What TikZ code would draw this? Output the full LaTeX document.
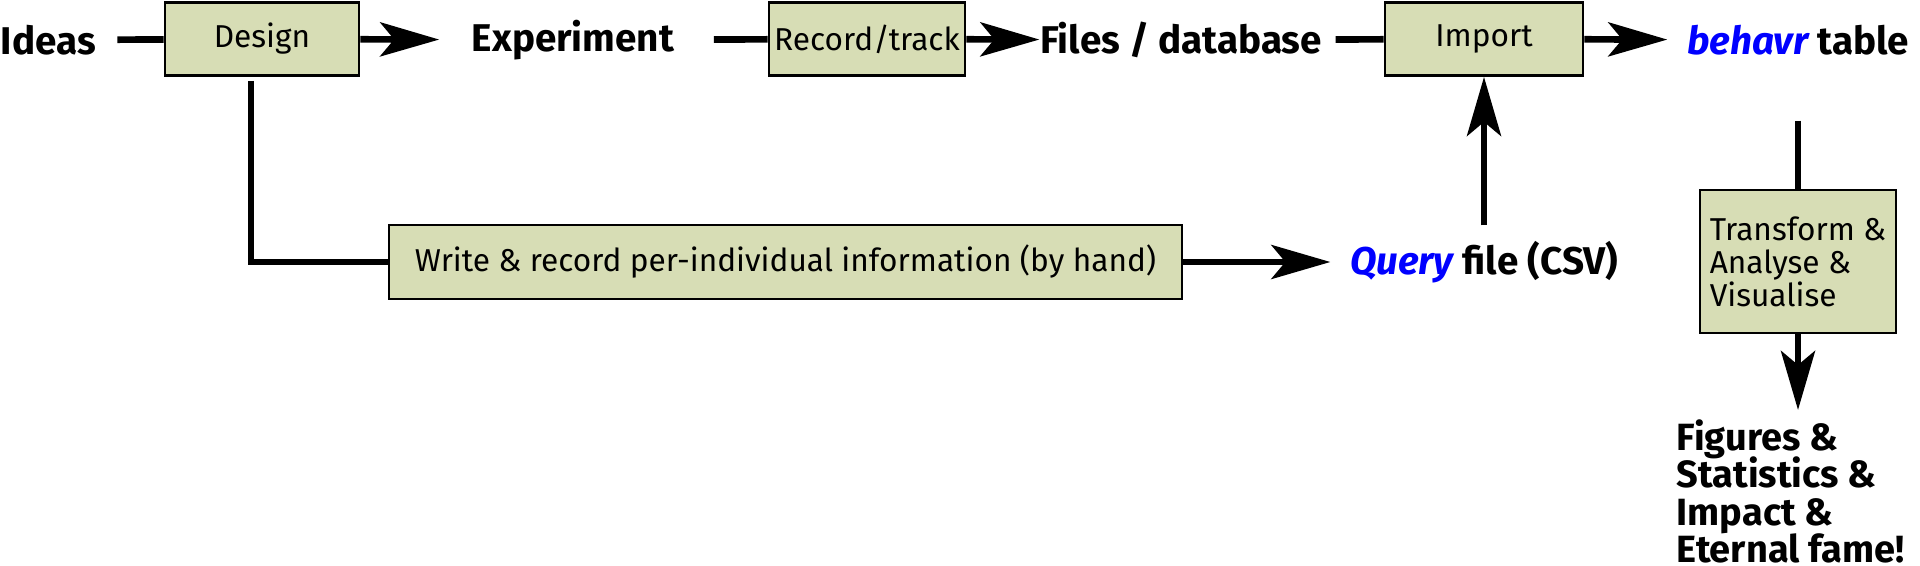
\documentclass[tikz,border=0pt]{standalone}
\usepackage{fontspec}
\setmainfont{Fira Sans}
\usepackage{xcolor}
\usepackage{tikz}
\usetikzlibrary{arrows.meta, positioning}

\definecolor{boxgreen}{RGB}{215,221,181}
\definecolor{pkgblue}{RGB}{0,0,255}
\newcommand{\tightlines}{\setlength{\lineskiplimit}{-10pt}}

\begin{document}
\begin{tikzpicture}[
    stagebox/.style={draw, rectangle, line width=0.8pt, fill=boxgreen, minimum height=0.73cm, inner sep=1pt, font=\fontsize{9}{9.4}\selectfont},
    stage/.style={inner sep=0pt, font=\fontsize{11}{11}\selectfont\bfseries},
    link/.style={line width=1.9pt},
    arrow/.style={link, -{Stealth[length=5.9mm, width=3.4mm, inset=1.4mm]}}
]
\useasboundingbox (0,0) rectangle (19.2,-5.66);

% top row
\node[stage, anchor=west] (ideas) at (0,-0.40) {Ideas};
\node[stagebox, minimum width=1.94cm] (design) at (2.62,-0.39) {Design};
\node[stage] (experiment) at (5.73,-0.40) {Experiment};
\node[stagebox, minimum width=1.96cm] (record) at (8.67,-0.39) {Record/track};
\node[stage] (files) at (11.81,-0.40) {Files / database};
\node[stagebox, minimum width=1.98cm] (import) at (14.84,-0.39) {Import};
\node[stage] (behavr) at (17.98,-0.40) {\textcolor{pkgblue}{\itshape behavr} table};

% bottom row
\node[stagebox, minimum width=7.93cm, minimum height=0.74cm] (write) at (7.855,-2.62) {Write \& record per-individual information (by hand)};
\node[stage] (query) at (14.84,-2.62) {\textcolor{pkgblue}{\itshape Query} file (CSV)};
\node[stagebox, minimum width=1.96cm, minimum height=1.43cm, align=left, font=\fontsize{9}{9.4}\selectfont\tightlines] (transform) at (17.98,-2.615) {Transform \&\\Analyse \&\\Visualise};
\node[stage, anchor=north west, align=left, font=\fontsize{10.8}{10.6}\selectfont\bfseries\tightlines] (figures) at (16.76,-4.19) {Figures \&\\Statistics \&\\Impact \&\\Eternal fame!};

% connectors
\draw[link, shorten <=2.1mm] (ideas) -- (design);
\draw[arrow, shorten >=3.2mm] (design) -- (experiment);
\draw[link, shorten <=3.9mm] (experiment) -- (record);
\draw[arrow] (record) -- (files);
\draw[link, shorten <=1.3mm] (files) -- (import);
\draw[arrow, shorten >=1.9mm] (import) -- (behavr);
\draw[link] ([xshift=-1.1mm, yshift=-0.4mm]design.south) |- (write);
\draw[arrow, shorten >=1.9mm] (write) -- (query);
\draw[arrow, shorten <=1.5mm] (query) -- (import);
\draw[link, shorten <=6.5mm] (behavr) -- (transform);
\draw[arrow, shorten >=0.9mm] (transform.south) -- (transform.south |- figures.north);

\end{tikzpicture}
\end{document}
